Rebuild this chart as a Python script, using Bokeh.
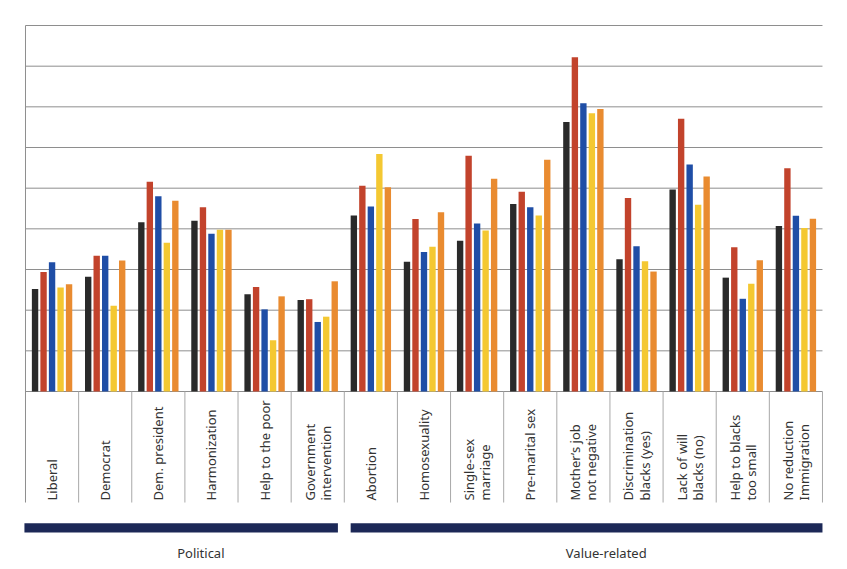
import math
from bokeh.plotting import figure
from bokeh.models import Range1d, ColumnDataSource
from bokeh.core.properties import value
from bokeh.embed import file_html
from bokeh.resources import INLINE

categories = ["Liberal", "Democrat", "Dem. president", "Harmonization",
              "Help to the poor", "Government\nintervention", "Abortion",
              "Homosexuality", "Single-sex\nmarriage", "Pre-marital sex",
              "Mother\u2019s job\nnot negative", "Discrimination\nblacks (yes)",
              "Lack of will\nblacks (no)", "Help to blacks\ntoo small",
              "No reduction\nImmigration"]

series_1 = [25.2, 28.2, 41.6, 42.0, 23.9, 22.5, 43.3, 31.9, 37.1, 46.1, 66.3, 32.5, 49.7, 28.0, 40.7]
series_2 = [29.4, 33.4, 51.6, 45.3, 25.7, 22.7, 50.6, 42.4, 58.0, 49.1, 82.2, 47.6, 67.1, 35.5, 54.9]
series_3 = [31.8, 33.4, 48.0, 38.8, 20.2, 17.1, 45.5, 34.3, 41.3, 45.3, 70.9, 35.7, 55.8, 22.8, 43.2]
series_4 = [25.6, 21.1, 36.6, 39.8, 12.6, 18.4, 58.4, 35.6, 39.6, 43.3, 68.4, 32.0, 45.9, 26.5, 40.2]
series_5 = [26.4, 32.2, 46.9, 39.8, 23.4, 27.1, 50.2, 44.1, 52.3, 57.0, 69.5, 29.5, 52.9, 32.3, 42.5]

grid_values = [10, 20, 30, 40, 50, 60, 70, 80, 90]

groups = ["Political", "Value-related"]
group_start = [0, 6]
group_end = [6, 15]

# ---- styling / layout ----
series = [series_1, series_2, series_3, series_4, series_5]
colors = ["#2a2a2a", "#c2432c", "#1f4ea6", "#f4c832", "#e98b30"]
n = len(categories)
pitch = 0.16
bar_w = 0.12
y_top = grid_values[-1]
label_y = -26.8
sep_bottom = -27.3
band_top, band_bottom = -32.4, -34.7
group_label_y = -39.8

p = figure(width=847, height=569, output_backend="svg", toolbar_location=None,
           x_range=Range1d(-0.4705, 15.471), y_range=Range1d(-43.77, 96.15),
           min_border=0, background_fill_color="white", border_fill_color="white")
p.axis.visible = False
p.xgrid.visible = False
p.ygrid.visible = False
p.outline_line_color = None

# grid lines and frame
p.segment(x0=[0] * len(grid_values), x1=[n] * len(grid_values), y0=grid_values, y1=grid_values,
          line_color="#8e8e8e", line_width=1)
p.segment(x0=[0], x1=[n], y0=[0], y1=[0], line_color="#8e8e8e", line_width=1)
p.segment(x0=[0], x1=[0], y0=[sep_bottom], y1=[y_top], line_color="#8e8e8e", line_width=1)
seps = list(range(1, n + 1))
p.segment(x0=seps, x1=seps, y0=[sep_bottom] * len(seps), y1=[0] * len(seps),
          line_color="#a8a8a8", line_width=1)

# bars
for i, (vals, col) in enumerate(zip(series, colors)):
    xs = [c + 0.5 + (i - 2) * pitch for c in range(n)]
    src = ColumnDataSource(dict(x=xs, top=vals))
    p.vbar(x="x", top="top", bottom=0, width=bar_w, source=src,
           fill_color=col, line_color=None)

# category labels
p.text(x=[c + 0.5 for c in range(n)], y=[label_y] * n, text=categories,
       angle=math.pi / 2, text_align="left", text_baseline="middle",
       text_font=value("Noto Sans"), text_font_size="13px", text_color="#333333",
       text_line_height=0.9)

# group bands
gap = 0.12
lefts = [s + (gap if s > 0 else -0.02) for s in group_start]
rights = [e - (gap if e < n else 0) for e in group_end]
p.quad(left=lefts, right=rights, top=[band_top] * 2, bottom=[band_bottom] * 2,
       fill_color="#1c2857", line_color=None)
p.text(x=[(l + r) / 2 + 0.37 for l, r in zip(lefts, rights)], y=[group_label_y] * 2,
       text=groups, text_align="center", text_baseline="middle",
       text_font=value("Noto Sans"), text_font_size="13px", text_color="#333333")

open("out.html", "w").write(file_html(p, INLINE))
